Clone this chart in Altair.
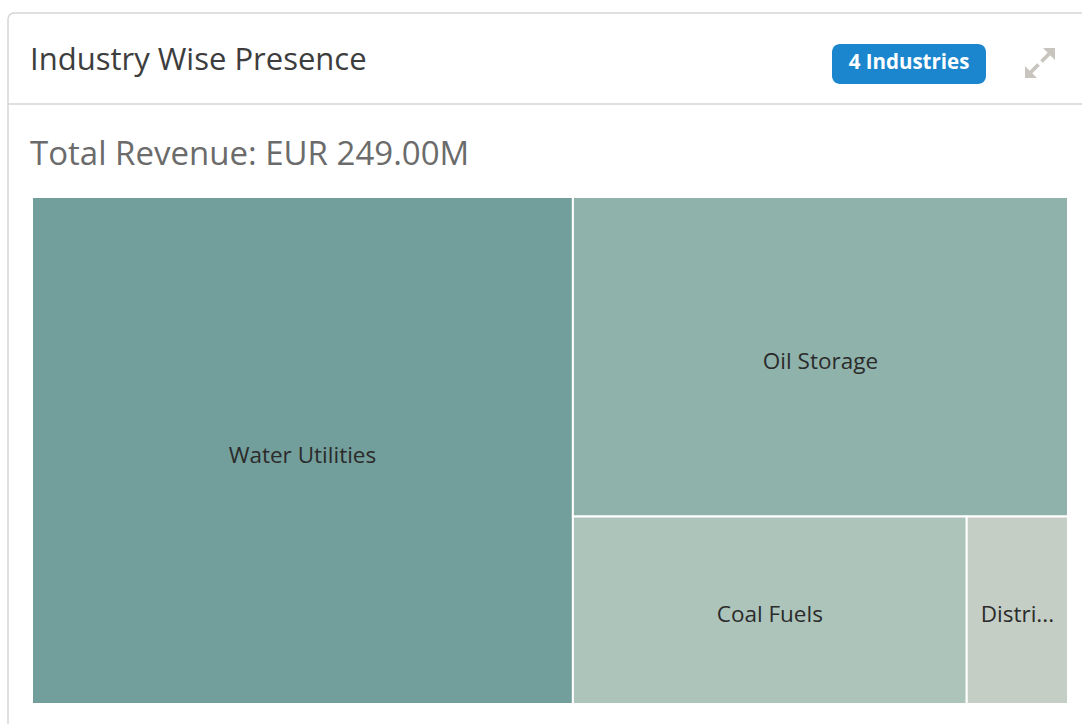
import altair as alt
import pandas as pd

# ---- data ----
industries = ["Water Utilities", "Oil Storage", "Coal Fuels", "Distributors"]
revenue_m = [130.0, 75.0, 35.0, 9.0]
colors = ["#729e9b", "#8fb2ab", "#adc4bb", "#c4cec5"]

title_text = "Industry Wise Presence"
badge_text = "4 Industries"
subtitle_text = "Total Revenue: EUR {:.2f}M".format(sum(revenue_m))

# ---- squarified treemap layout (computed from the values) ----
BOX_W, BOX_H = 1036.0, 507.0


def worst(row, side):
    s = sum(row)
    return max(max(side * side * r / (s * s), (s * s) / (side * side * r)) for r in row)


def squarify(values, x, y, w, h):
    total = sum(values)
    areas = [v / total * w * h for v in values]
    out = []
    idx = 0
    while idx < len(areas):
        short = min(w, h)
        row = [areas[idx]]
        j = idx + 1
        while j < len(areas) and worst(row + [areas[j]], short) <= worst(row, short):
            row.append(areas[j])
            j += 1
        s = sum(row)
        if w >= h:
            cw = s / h
            yy = y
            for a in row:
                rh = a / cw
                out.append((x, yy, x + cw, yy + rh))
                yy += rh
            x += cw
            w -= cw
        else:
            rh = s / w
            xx = x
            for a in row:
                cw = a / rh
                out.append((xx, y, xx + cw, y + rh))
                xx += cw
            y += rh
            h -= rh
        idx = j
    return out


rects = squarify(revenue_m, 0.0, 0.0, BOX_W, BOX_H)
df = pd.DataFrame({
    "industry": industries,
    "revenue": revenue_m,
    "x0": [r[0] for r in rects],
    "y0": [r[1] for r in rects],
    "x1": [r[2] for r in rects],
    "y1": [r[3] for r in rects],
})
df["xc"] = (df.x0 + df.x1) / 2
df["yc"] = (df.y0 + df.y1) / 2
df["w"] = df.x1 - df.x0

xs = alt.Scale(domain=[0, BOX_W], range=[32, 1068], nice=False, zero=False)
ys = alt.Scale(domain=[0, BOX_H], range=[197, 704], nice=False, zero=False)

one = alt.Data(values=[{}])
FONT = "Open Sans"

card = alt.Chart(one).mark_rect(
    cornerRadius=6, fill="white", stroke="#d6d6d6", strokeWidth=1.5
).encode(x=alt.value(8), x2=alt.value(1110), y=alt.value(13), y2=alt.value(780))

sep = alt.Chart(one).mark_rule(color="#d6d6d6", strokeWidth=1.5).encode(
    x=alt.value(8), x2=alt.value(1082), y=alt.value(104)
)

title = alt.Chart(one).mark_text(
    align="left", baseline="middle", font=FONT, fontSize=31, color="#3d3d3d"
).encode(x=alt.value(30), y=alt.value(61), text=alt.value(title_text))

badge = alt.Chart(one).mark_rect(cornerRadius=8, color="#1b86cd").encode(
    x=alt.value(832), x2=alt.value(986), y=alt.value(44), y2=alt.value(84)
)
badge_label = alt.Chart(one).mark_text(
    align="center", baseline="middle", font=FONT, fontSize=20.5, fontWeight="bold", color="white"
).encode(x=alt.value(909), y=alt.value(63), text=alt.value(badge_text))

EXPAND_PATH = (
    "M1,-1L0.2,-1L1,-0.2Z "
    "M0.688,-0.512L0.512,-0.688L0.012,-0.188L0.188,-0.012Z "
    "M-1,1L-0.2,1L-1,0.2Z "
    "M-0.688,0.512L-0.512,0.688L-0.012,0.188L-0.188,0.012Z"
)
expand = alt.Chart(one).mark_point(
    shape=EXPAND_PATH, filled=True, size=900, color="#c8c4be", opacity=1, strokeWidth=0
).encode(x=alt.value(1040), y=alt.value(63))

subtitle = alt.Chart(one).mark_text(
    align="left", baseline="middle", font=FONT, fontSize=33, color="#6b6b6b"
).encode(x=alt.value(30), y=alt.value(155), text=alt.value(subtitle_text))

base = alt.Chart(df)

tiles = base.mark_rect(stroke="white", strokeWidth=2).encode(
    x=alt.X("x0:Q", scale=xs, axis=None),
    x2="x1:Q",
    y=alt.Y("y0:Q", scale=ys, axis=None),
    y2="y1:Q",
    color=alt.Color("industry:N", scale=alt.Scale(domain=industries, range=colors), legend=None),
    tooltip=["industry:N", "revenue:Q"],
)

labels_big = base.transform_filter("datum.w > 200").mark_text(
    align="center", baseline="middle", font=FONT, fontSize=22.5, color="#2b2b2b", dy=5
).encode(
    x=alt.X("xc:Q", scale=xs, axis=None),
    y=alt.Y("yc:Q", scale=ys, axis=None),
    text="industry:N",
)

labels_small = base.transform_filter("datum.w <= 200").mark_text(
    align="center", baseline="middle", font=FONT, fontSize=22.5, color="#2b2b2b",
    limit=84, ellipsis="...", dy=5
).encode(
    x=alt.X("xc:Q", scale=xs, axis=None),
    y=alt.Y("yc:Q", scale=ys, axis=None),
    text="industry:N",
)

chart = alt.layer(
    card, sep, title, badge, badge_label, expand, subtitle, tiles, labels_big, labels_small
).properties(
    width=1082, height=724, padding=0, autosize="none", background="white"
).configure_view(stroke=None)

chart.save("out.html", embed_options={"renderer": "svg", "actions": False})
